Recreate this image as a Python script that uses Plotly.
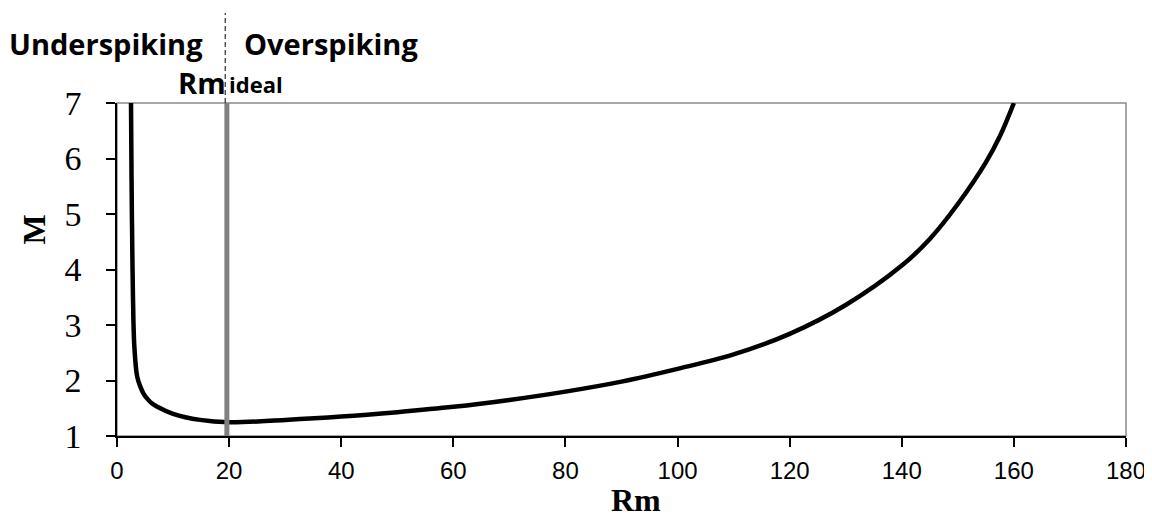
import plotly.graph_objects as go

# Data
rm_values = [2.5, 2.6, 2.7, 2.85, 3.1, 3.6, 4.2, 4.7, 5.5, 6.2, 7.1, 10, 14.8, 20, 30, 40, 50,
             60, 70, 80, 90, 100, 110, 120, 130, 140, 145, 150, 155, 157.5, 160]
m_values = [7.0, 5.6, 4.6, 3.5, 2.6, 2.07, 1.88, 1.77, 1.66, 1.59, 1.53, 1.40, 1.29, 1.247, 1.29, 1.35, 1.43,
            1.525, 1.65, 1.80, 1.98, 2.21, 2.47, 2.84, 3.36, 4.07, 4.55, 5.18, 5.93, 6.40, 7.0]
rm_ideal = 19.6
x_ticks = [0, 20, 40, 60, 80, 100, 120, 140, 160, 180]
y_ticks = [1, 2, 3, 4, 5, 6, 7]

OFF = 8  # page body margin
PAGE_W, PAGE_H = 1152, 517
W, H = PAGE_W - OFF, PAGE_H - OFF
# plot area in page pixels: x 117..1126, y 103..436
L, R, T, B = 117 - OFF, PAGE_W - 1126, 103 - OFF, PAGE_H - 436
PW, PH = 1126 - 117, 436 - 103

def px_y(p):
    return (436 - p) / PH

def px_x(p):
    return (p - 117) / PW

fig = go.Figure()
fig.add_trace(go.Scatter(x=rm_values, y=m_values, mode="lines",
                         line=dict(color="black", width=4.5, shape="spline", smoothing=1.0),
                         hoverinfo="skip", showlegend=False))
fig.add_trace(go.Scatter(x=[rm_ideal, rm_ideal], y=[y_ticks[0], y_ticks[-1]], mode="lines",
                         line=dict(color="#808080", width=5), hoverinfo="skip", showlegend=False))

# plot-area border (grey top/right)
fig.add_shape(type="rect", xref="paper", yref="paper", x0=0, x1=1, y0=0, y1=1,
              line=dict(color="#8a8a8a", width=1.5), layer="below")
# dashed divider above the plot
fig.add_shape(type="line", xref="x", yref="paper", x0=rm_ideal - 0.3, x1=rm_ideal - 0.3,
              y0=1, y1=px_y(13), line=dict(color="black", width=1, dash="5px,3px"))

hdr_font = dict(family="Open Sans", size=29, color="black")
fig.add_annotation(text="<b>Underspiking</b>", xref="x", yref="paper", x=rm_ideal, y=px_y(43),
                   xanchor="right", yanchor="middle", xshift=-22, showarrow=False, font=hdr_font)
fig.add_annotation(text="<b>Overspiking</b>", xref="x", yref="paper", x=rm_ideal, y=px_y(43),
                   xanchor="left", yanchor="middle", xshift=15, showarrow=False, font=hdr_font)
fig.add_annotation(text="<b>Rm</b>", xref="x", yref="paper", x=rm_ideal, y=px_y(82),
                   xanchor="right", yanchor="middle", xshift=1, showarrow=False, font=hdr_font)
fig.add_annotation(text="<b>ideal</b>", xref="x", yref="paper", x=rm_ideal, y=px_y(84),
                   xanchor="left", yanchor="middle", xshift=0, showarrow=False,
                   font=dict(family="Open Sans", size=22, color="black"))

fig.add_annotation(text="<b>M</b>", xref="paper", yref="paper", x=px_x(33.5), y=px_y(230),
                   textangle=-90, xanchor="center", yanchor="middle", showarrow=False,
                   font=dict(family="Liberation Serif", size=32, color="black"))
fig.add_annotation(text="<b>Rm</b>", xref="paper", yref="paper", x=px_x(636), y=px_y(500),
                   xanchor="center", yanchor="middle", showarrow=False,
                   font=dict(family="Liberation Serif", size=32, color="black"))

fig.update_xaxes(range=[0, 180], tickvals=x_ticks, ticktext=[str(v) for v in x_ticks],
                 showgrid=False, zeroline=False, showline=True, linecolor="black", linewidth=1.5,
                 ticks="outside", ticklen=9, tickwidth=1.5, tickcolor="black",
                 tickfont=dict(family="Liberation Sans", size=24, color="black"),
                 ticklabelstandoff=3)
fig.update_yaxes(range=[1, 7], tickvals=y_ticks, ticktext=[str(v) for v in y_ticks],
                 showgrid=False, zeroline=False, showline=True, linecolor="black", linewidth=1.5,
                 ticks="outside", ticklen=9, tickwidth=1.5, tickcolor="black",
                 tickfont=dict(family="Liberation Serif", size=34, color="black"),
                 ticklabelstandoff=18)

fig.update_layout(width=W, height=H, margin=dict(l=L, r=R, t=T, b=B, autoexpand=False),
                  paper_bgcolor="white", plot_bgcolor="white")
fig.write_html("out.html")
